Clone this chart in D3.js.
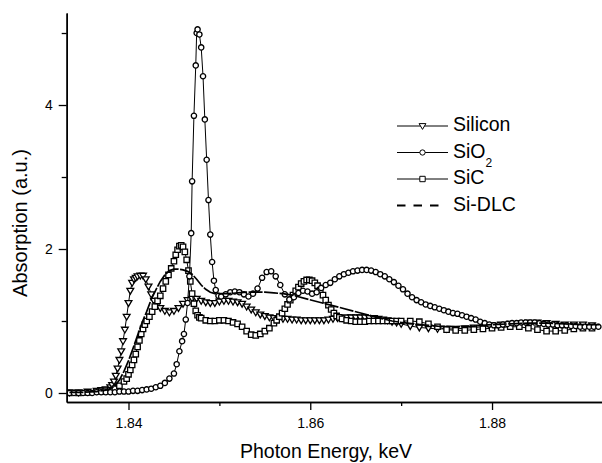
<!DOCTYPE html>
<html>
<head>
<meta charset="utf-8">
<script src="https://cdn.jsdelivr.net/npm/d3@7"></script>
<style>
  body { margin: 0; background: #fff; }
  text { font-family: 'Liberation Sans', Arial, sans-serif; fill: #000; }
</style>
</head>
<body>
<svg id="chart" width="602" height="463"></svg>
<script>
// [photon energy (keV), absorption (a.u.)]
const siliconData = [
  [1.8335, 0.01], [1.8345, 0.01], [1.8355, 0.02], [1.8365, 0.03], [1.8370, 0.04],
  [1.8375, 0.05], [1.8380, 0.08], [1.8382, 0.11], [1.8384, 0.16], [1.8386, 0.24],
  [1.8388, 0.34], [1.8390, 0.46], [1.8392, 0.58], [1.8394, 0.72], [1.8396, 0.88],
  [1.8398, 1.06], [1.8400, 1.25], [1.8402, 1.42], [1.8404, 1.53], [1.8406, 1.58],
  [1.8408, 1.60], [1.8410, 1.62], [1.8413, 1.63], [1.8416, 1.63], [1.8419, 1.58],
  [1.8422, 1.48], [1.8425, 1.37], [1.8428, 1.28], [1.8431, 1.22], [1.8435, 1.18],
  [1.8440, 1.14], [1.8445, 1.12], [1.8450, 1.14], [1.8455, 1.18], [1.8460, 1.24],
  [1.8465, 1.29], [1.8470, 1.31], [1.8475, 1.31], [1.8480, 1.28], [1.8485, 1.26],
  [1.8490, 1.25], [1.8495, 1.25], [1.8500, 1.27], [1.8505, 1.28], [1.8510, 1.28],
  [1.8515, 1.27], [1.8520, 1.26], [1.8525, 1.24], [1.8530, 1.20], [1.8535, 1.16],
  [1.8540, 1.12], [1.8545, 1.09], [1.8550, 1.07], [1.8555, 1.05], [1.8560, 1.04],
  [1.8565, 1.03], [1.8570, 1.03], [1.8575, 1.03], [1.8580, 1.02], [1.8585, 1.02],
  [1.8590, 1.01], [1.8595, 1.01], [1.8600, 1.01], [1.8605, 1.01], [1.8610, 1.01],
  [1.8615, 1.01], [1.8620, 1.02], [1.8625, 1.03], [1.8630, 1.04], [1.8635, 1.04],
  [1.8640, 1.05], [1.8645, 1.05], [1.8650, 1.05], [1.8655, 1.05], [1.8660, 1.05],
  [1.8665, 1.04], [1.8670, 1.04], [1.8675, 1.03], [1.8680, 1.02], [1.8685, 1.01],
  [1.8690, 0.99], [1.8695, 0.98], [1.8700, 0.96], [1.8710, 0.93], [1.8720, 0.91],
  [1.8730, 0.90], [1.8740, 0.89], [1.8750, 0.89], [1.8760, 0.89], [1.8770, 0.90],
  [1.8780, 0.91], [1.8790, 0.92], [1.8800, 0.94], [1.8810, 0.95], [1.8820, 0.96],
  [1.8830, 0.97], [1.8840, 0.98], [1.8850, 0.98], [1.8860, 0.97], [1.8870, 0.96],
  [1.8880, 0.95], [1.8890, 0.95], [1.8900, 0.95], [1.8910, 0.94]
]

const sio2Data = [
  [1.8335, 0.00], [1.8340, 0.00], [1.8345, 0.00], [1.8350, 0.00], [1.8355, 0.00],
  [1.8360, 0.00], [1.8365, 0.01], [1.8370, 0.01], [1.8375, 0.01], [1.8380, 0.01],
  [1.8385, 0.01], [1.8390, 0.02], [1.8395, 0.02], [1.8400, 0.02], [1.8405, 0.03],
  [1.8410, 0.03], [1.8415, 0.04], [1.8420, 0.05], [1.8425, 0.06], [1.8430, 0.08],
  [1.8435, 0.10], [1.8440, 0.14], [1.8445, 0.20], [1.8450, 0.27], [1.8453, 0.40],
  [1.8456, 0.58], [1.8459, 0.72], [1.8461, 0.82], [1.8463, 1.02], [1.8465, 1.25],
  [1.8467, 1.62], [1.8469, 2.22], [1.8470, 2.94], [1.8472, 3.85], [1.8474, 4.55],
  [1.8475, 5.00], [1.8476, 5.05], [1.8478, 4.98], [1.8480, 4.80], [1.8482, 4.40],
  [1.8484, 3.80], [1.8486, 3.24], [1.8488, 2.68], [1.8490, 2.20], [1.8492, 1.82],
  [1.8494, 1.56], [1.8496, 1.43], [1.8499, 1.35], [1.8502, 1.34], [1.8507, 1.37],
  [1.8512, 1.40], [1.8517, 1.41], [1.8522, 1.40], [1.8527, 1.37], [1.8532, 1.34],
  [1.8537, 1.38], [1.8542, 1.45], [1.8547, 1.60], [1.8552, 1.68], [1.8557, 1.69],
  [1.8562, 1.62], [1.8567, 1.50], [1.8572, 1.37], [1.8577, 1.30], [1.8582, 1.33],
  [1.8587, 1.39], [1.8592, 1.42], [1.8597, 1.41], [1.8602, 1.38], [1.8607, 1.40],
  [1.8612, 1.46], [1.8617, 1.50], [1.8622, 1.53], [1.8627, 1.58], [1.8632, 1.62],
  [1.8637, 1.65], [1.8642, 1.67], [1.8647, 1.69], [1.8652, 1.70], [1.8657, 1.71],
  [1.8662, 1.71], [1.8667, 1.70], [1.8672, 1.68], [1.8677, 1.65], [1.8682, 1.62],
  [1.8687, 1.58], [1.8692, 1.54], [1.8697, 1.49], [1.8702, 1.44], [1.8707, 1.38],
  [1.8712, 1.33], [1.8717, 1.29], [1.8722, 1.26], [1.8727, 1.23], [1.8732, 1.21],
  [1.8737, 1.19], [1.8742, 1.17], [1.8747, 1.15], [1.8752, 1.13], [1.8757, 1.11],
  [1.8762, 1.10], [1.8767, 1.08], [1.8772, 1.06], [1.8777, 1.04], [1.8782, 1.02],
  [1.8787, 0.99], [1.8792, 0.97], [1.8797, 0.95], [1.8802, 0.94], [1.8807, 0.94],
  [1.8812, 0.95], [1.8817, 0.96], [1.8822, 0.97], [1.8827, 0.97], [1.8832, 0.98],
  [1.8837, 0.98], [1.8842, 0.98], [1.8847, 0.98], [1.8852, 0.97], [1.8857, 0.96],
  [1.8862, 0.95], [1.8867, 0.95], [1.8872, 0.94], [1.8877, 0.94], [1.8882, 0.94],
  [1.8887, 0.93], [1.8892, 0.93], [1.8897, 0.92], [1.8902, 0.92], [1.8907, 0.92],
  [1.8912, 0.92], [1.8917, 0.92]
]

const sicData = [
  [1.8335, 0.00], [1.8345, 0.00], [1.8355, 0.01], [1.8365, 0.02], [1.8370, 0.02],
  [1.8375, 0.03], [1.8380, 0.04], [1.8385, 0.06], [1.8390, 0.10], [1.8395, 0.16],
  [1.8398, 0.20], [1.8400, 0.26], [1.8402, 0.32], [1.8404, 0.39], [1.8406, 0.46],
  [1.8408, 0.54], [1.8410, 0.64], [1.8412, 0.73], [1.8414, 0.82], [1.8416, 0.89],
  [1.8418, 0.95], [1.8420, 1.00], [1.8423, 1.06], [1.8426, 1.13], [1.8429, 1.20],
  [1.8432, 1.28], [1.8435, 1.35], [1.8438, 1.45], [1.8441, 1.55], [1.8444, 1.64],
  [1.8447, 1.73], [1.8450, 1.83], [1.8452, 1.92], [1.8454, 1.99], [1.8456, 2.04],
  [1.8458, 2.05], [1.8460, 2.03], [1.8462, 1.96], [1.8464, 1.85], [1.8466, 1.70],
  [1.8468, 1.55], [1.8470, 1.38], [1.8472, 1.24], [1.8474, 1.14], [1.8476, 1.08],
  [1.8478, 1.05], [1.8480, 1.04], [1.8485, 1.01], [1.8490, 1.00], [1.8495, 1.00],
  [1.8500, 1.01], [1.8505, 1.01], [1.8510, 1.00], [1.8515, 0.98], [1.8520, 0.96],
  [1.8525, 0.92], [1.8530, 0.86], [1.8535, 0.81], [1.8540, 0.80], [1.8545, 0.82],
  [1.8550, 0.86], [1.8555, 0.90], [1.8560, 0.97], [1.8563, 1.01], [1.8566, 1.06],
  [1.8569, 1.11], [1.8572, 1.17], [1.8575, 1.23], [1.8578, 1.29], [1.8581, 1.36],
  [1.8584, 1.42], [1.8587, 1.47], [1.8590, 1.52], [1.8593, 1.55], [1.8596, 1.57],
  [1.8599, 1.57], [1.8602, 1.56], [1.8605, 1.53], [1.8608, 1.49], [1.8611, 1.43],
  [1.8614, 1.36], [1.8617, 1.29], [1.8620, 1.22], [1.8623, 1.16], [1.8626, 1.11],
  [1.8629, 1.07], [1.8632, 1.05], [1.8635, 1.03], [1.8640, 1.01], [1.8645, 1.00],
  [1.8650, 0.99], [1.8655, 0.99], [1.8660, 0.99], [1.8665, 1.00], [1.8670, 1.00],
  [1.8675, 1.00], [1.8680, 1.00], [1.8685, 1.00], [1.8690, 1.00], [1.8695, 1.00],
  [1.8700, 1.00], [1.8710, 1.00], [1.8720, 0.99], [1.8730, 0.96], [1.8740, 0.92],
  [1.8750, 0.88], [1.8760, 0.87], [1.8770, 0.87], [1.8780, 0.88], [1.8790, 0.89],
  [1.8800, 0.90], [1.8810, 0.91], [1.8820, 0.92], [1.8830, 0.92], [1.8840, 0.90],
  [1.8850, 0.88], [1.8860, 0.86], [1.8870, 0.86], [1.8880, 0.87], [1.8890, 0.89],
  [1.8900, 0.90], [1.8910, 0.90]
]

// Si-DLC: no points between 1.858 and 1.8665, so the curve runs straight there
const dlcData = [
  [1.8335, 0.01], [1.8350, 0.01], [1.8365, 0.02], [1.8375, 0.04], [1.8380, 0.06],
  [1.8385, 0.10], [1.8390, 0.18], [1.8395, 0.30], [1.8400, 0.45], [1.8405, 0.62],
  [1.8410, 0.80], [1.8415, 0.98], [1.8420, 1.13], [1.8425, 1.30], [1.8430, 1.43],
  [1.8435, 1.55], [1.8440, 1.64], [1.8445, 1.70], [1.8450, 1.72], [1.8455, 1.72],
  [1.8460, 1.71], [1.8465, 1.69], [1.8470, 1.65], [1.8475, 1.58], [1.8480, 1.50],
  [1.8485, 1.44], [1.8490, 1.40], [1.8495, 1.38], [1.8500, 1.38], [1.8510, 1.38],
  [1.8520, 1.39], [1.8530, 1.40], [1.8540, 1.40], [1.8550, 1.40], [1.8560, 1.39],
  [1.8570, 1.38], [1.8580, 1.36],
  [1.8665, 1.08], [1.8670, 1.06], [1.8680, 1.03], [1.8690, 1.00], [1.8700, 0.98],
  [1.8720, 0.95], [1.8740, 0.93], [1.8760, 0.92], [1.8780, 0.93], [1.8800, 0.95],
  [1.8820, 0.96], [1.8840, 0.97], [1.8860, 0.97], [1.8880, 0.96], [1.8900, 0.95],
  [1.8920, 0.95]
]

const xTicks = [1.84, 1.86, 1.88]
const xMinorTicks = [1.85, 1.87]
const yTicks = [0, 2, 4]
const yMinorTicks = [1, 3, 5]

const legendNames = ['Silicon', 'SiO2', 'SiC', 'Si-DLC']

// --------------------------------------------------------------
const svg = d3.select('#chart')

const x = d3.scaleLinear().domain([1.8332, 1.8921]).range([66.7, 602])
const y = d3.scaleLinear().domain([-0.125, 5.278]).range([402, 13])

const line = d3
  .line()
  .x((d) => x(d[0]))
  .y((d) => y(d[1]))

// marker shapes
const triDown = 'M-3.4,-2.4L3.4,-2.4L0,3.4Z'
const square = 'M-2.7,-2.7H2.7V2.7H-2.7Z'
const circle = d3.symbol(d3.symbolCircle, 22)()

svg
  .append('clipPath')
  .attr('id', 'plotClip')
  .append('rect')
  .attr('x', 67)
  .attr('y', 0)
  .attr('width', 535)
  .attr('height', 401)

const plot = svg.append('g').attr('clip-path', 'url(#plotClip)')

const drawSeries = function ({ data, shape }) {
  const g = plot.append('g')
  g.append('path')
    .datum(data)
    .attr('d', line)
    .attr('fill', 'none')
    .attr('stroke', '#000')
    .attr('stroke-width', 1)
  g.selectAll('path.pt')
    .data(data)
    .join('path')
    .attr('class', 'pt')
    .attr('d', shape)
    .attr('transform', (d) => 'translate(' + x(d[0]) + ',' + y(d[1]) + ')')
    .attr('fill', '#fff')
    .attr('stroke', '#000')
    .attr('stroke-width', 1.3)
  return g
}

drawSeries({ data: siliconData, shape: triDown })
drawSeries({ data: sicData, shape: square })
drawSeries({ data: sio2Data, shape: circle })

plot
  .append('path')
  .datum(dlcData)
  .attr('d', line)
  .attr('fill', 'none')
  .attr('stroke', '#000')
  .attr('stroke-width', 1.7)
  .attr('stroke-dasharray', '14,1.5')

// --------------------------------------------------------------
// Axes
const xAxis = svg.append('g').attr('transform', 'translate(0,402)')
xAxis.call(
  d3.axisBottom(x).tickValues(xTicks).tickSize(8).tickSizeOuter(0).tickPadding(8)
    .tickFormat(d3.format('.2f'))
)
xAxis.append('g').call(
  d3.axisBottom(x).tickValues(xMinorTicks).tickSize(4).tickSizeOuter(0).tickFormat('')
)

const yAxis = svg.append('g').attr('transform', 'translate(66.7,0)')
yAxis.call(
  d3.axisLeft(y).tickValues(yTicks).tickSize(8).tickSizeOuter(0).tickPadding(6)
    .tickFormat(d3.format('d'))
)
yAxis.append('g').call(
  d3.axisLeft(y).tickValues(yMinorTicks).tickSize(5).tickSizeOuter(0).tickFormat('')
)

svg.selectAll('.domain').attr('stroke', '#000').attr('stroke-width', 1.5)
svg.selectAll('.tick line').attr('stroke', '#000').attr('stroke-width', 1.3)
svg.selectAll('.tick text')
  .attr('font-size', 14)
  .attr('font-family', "'Liberation Sans', Arial, sans-serif")

svg.append('text')
  .attr('x', 326)
  .attr('y', 458)
  .attr('text-anchor', 'middle')
  .attr('font-size', 19.5)
  .text('Photon Energy, keV')

svg.append('text')
  .attr('transform', 'translate(27,223) rotate(-90)')
  .attr('text-anchor', 'middle')
  .attr('font-size', 20)
  .text('Absorption (a.u.)')

// --------------------------------------------------------------
// Legend
const legendShapes = [triDown, circle, square, null]
const legend = svg.append('g').attr('transform', 'translate(397,0)')
legendNames.forEach((name, i) => {
  const base = 131 + i * 26.5
  const ly = base - 5
  const row = legend.append('g')
  if (legendShapes[i]) {
    row.append('line')
      .attr('x1', 0).attr('x2', 51).attr('y1', ly).attr('y2', ly)
      .attr('stroke', '#000').attr('stroke-width', 1)
    row.append('path')
      .attr('d', legendShapes[i])
      .attr('transform', 'translate(25.5,' + ly + ')')
      .attr('fill', '#fff').attr('stroke', '#000')
  } else {
    row.append('line')
      .attr('x1', 0).attr('x2', 46).attr('y1', ly).attr('y2', ly)
      .attr('stroke', '#000').attr('stroke-width', 2.2)
      .attr('stroke-dasharray', '8.5,8')
  }
  const t = row.append('text').attr('x', 56).attr('y', base).attr('font-size', 19.5)
  if (name === 'SiO2') {
    t.append('tspan').text('SiO')
    t.append('tspan').attr('font-size', 12).attr('dy', 9).text('2')
  } else {
    t.text(name)
  }
})
</script>
</body>
</html>
